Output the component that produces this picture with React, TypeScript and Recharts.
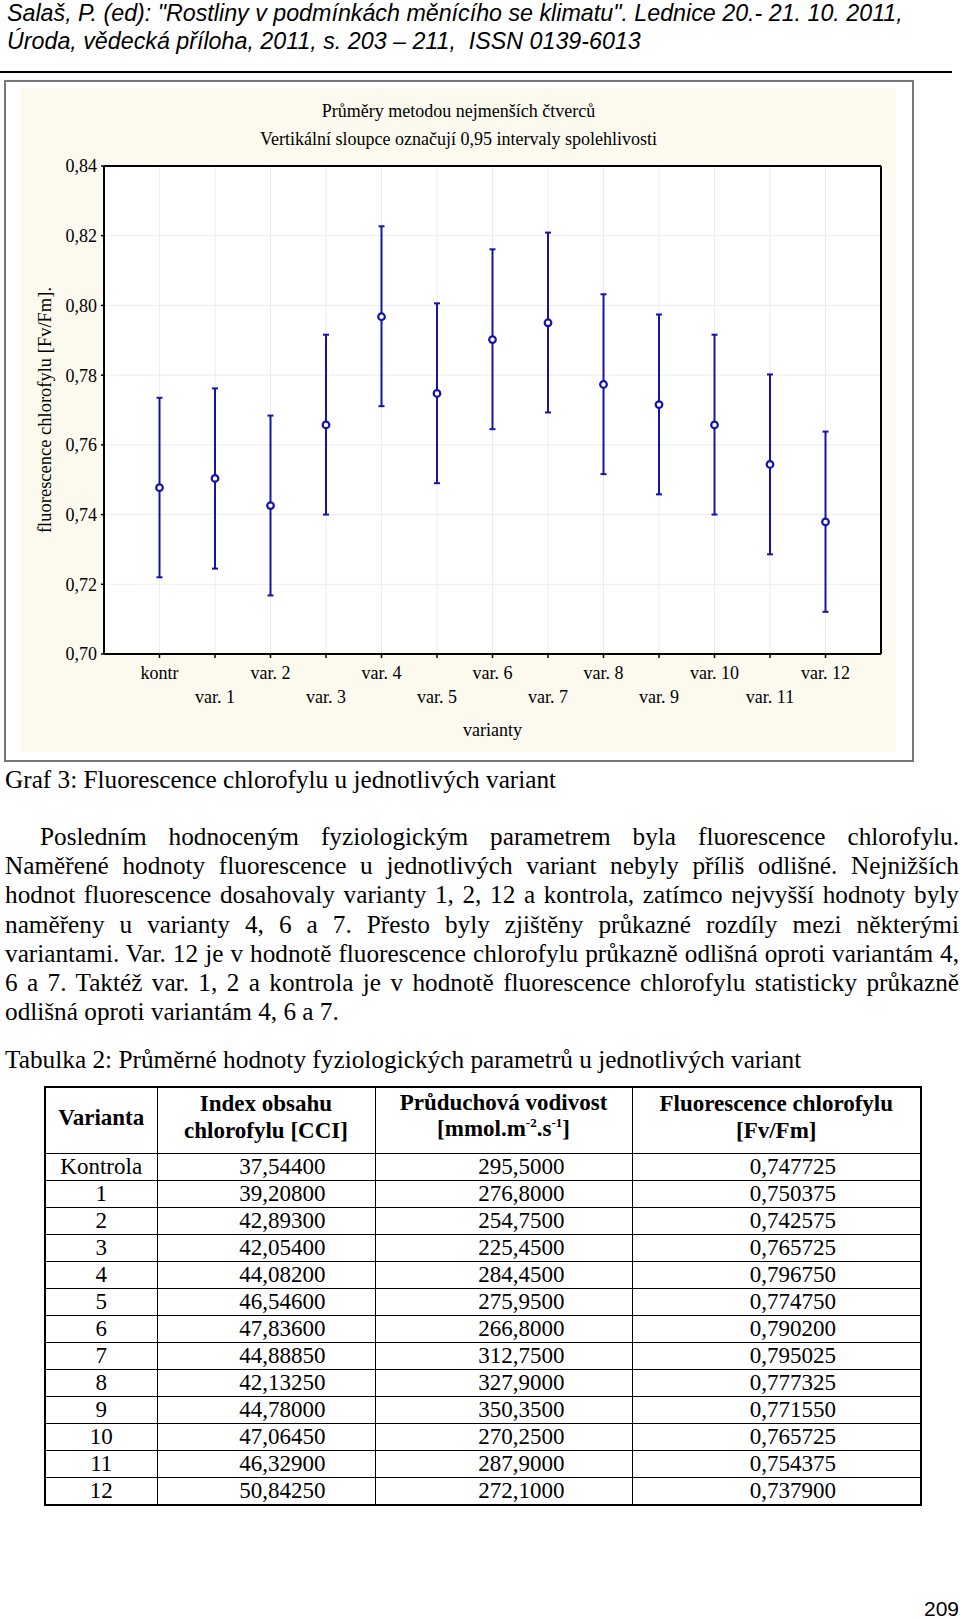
import React from 'react'
import { ComposedChart, Scatter, ErrorBar, XAxis, YAxis, CartesianGrid } from 'recharts'

const varianty = ['kontr', 'var. 1', 'var. 2', 'var. 3', 'var. 4', 'var. 5', 'var. 6', 'var. 7', 'var. 8', 'var. 9', 'var. 10', 'var. 11', 'var. 12']
const prumery = [0.747725, 0.750375, 0.742575, 0.765725, 0.79675, 0.77475, 0.7902, 0.795025, 0.777325, 0.77155, 0.765725, 0.754375, 0.7379]
const horniMez = [0.7735, 0.7762, 0.7684, 0.7916, 0.8227, 0.8006, 0.8161, 0.8209, 0.8032, 0.7974, 0.7916, 0.7802, 0.7638]
const dolniMez = [0.722, 0.7245, 0.7168, 0.74, 0.7711, 0.749, 0.7645, 0.7693, 0.7516, 0.7458, 0.74, 0.7286, 0.7121]
const yTicks = [0.7, 0.72, 0.74, 0.76, 0.78, 0.8, 0.82, 0.84]
const xTicks = [1, 2, 3, 4, 5, 6, 7, 8, 9, 10, 11, 12, 13]

// tabulka 2
const tabVarianty = ['Kontrola', '1', '2', '3', '4', '5', '6', '7', '8', '9', '10', '11', '12']
const cci = [37.544, 39.208, 42.893, 42.054, 44.082, 46.546, 47.836, 44.8885, 42.1325, 44.78, 47.0645, 46.329, 50.8425]
const vodivost = [295.5, 276.8, 254.75, 225.45, 284.45, 275.95, 266.8, 312.75, 327.9, 350.35, 270.25, 287.9, 272.1]
const fvFm = [0.747725, 0.750375, 0.742575, 0.765725, 0.79675, 0.77475, 0.7902, 0.795025, 0.777325, 0.77155, 0.765725, 0.754375, 0.7379]

const odstavec = [
  'Posledním hodnoceným fyziologickým parametrem byla fluorescence chlorofylu.',
  'Naměřené hodnoty fluorescence u jednotlivých variant nebyly příliš odlišné. Nejnižších',
  'hodnot fluorescence dosahovaly varianty 1, 2, 12 a kontrola, zatímco nejvyšší hodnoty byly',
  'naměřeny u varianty 4, 6 a 7. Přesto byly zjištěny průkazné rozdíly mezi některými',
  'variantami. Var. 12 je v hodnotě fluorescence chlorofylu průkazně odlišná oproti variantám 4,',
  '6 a 7. Taktéž var. 1, 2 a kontrola je v hodnotě fluorescence chlorofylu statisticky průkazně',
  'odlišná oproti variantám 4, 6 a 7.',
]

const serif = '"Liberation Serif", "Times New Roman", serif'
const sans = '"Liberation Sans", Arial, sans-serif'
const blue = '#1414aa'

const data = varianty.map((name, i) => ({
  x: i + 1,
  name,
  y: prumery[i],
  err: [prumery[i] - dolniMez[i], horniMez[i] - prumery[i]],
}))

const cz = (v: number, d: number) => v.toFixed(d).replace('.', ',')

const XTick = (props: any) => {
  const { x, y, payload } = props
  const i = Math.round(payload.value) - 1
  if (i < 0 || i >= varianty.length) return null
  const druhy = i % 2 === 1
  return (
    <text x={x} y={y + (druhy ? 39 : 15)} dy="0.35em" textAnchor="middle" fontSize={18} fontFamily={serif} fill="#000">
      {varianty[i]}
    </text>
  )
}

const Bod = (props: any) => (
  <circle cx={props.cx} cy={props.cy} r={3.3} fill="#fff" stroke={blue} strokeWidth={2.2} />
)

const Nic = () => <g />

function Graf() {
  return (
    <div style={{ position: 'absolute', left: 21, top: 88, width: 875, height: 664, background: '#fcf9ef' }}>
      <div style={{ position: 'absolute', left: 0, top: 10, width: 875, textAlign: 'center', fontFamily: serif, fontSize: 18, lineHeight: '27.5px' }}>
        Průměry metodou nejmenších čtverců
        <br />
        Vertikální sloupce označují 0,95 intervaly spolehlivosti
      </div>
      <ComposedChart width={875} height={664} data={data} margin={{ top: 78, right: 15, bottom: 0, left: 0 }}>
        <CartesianGrid stroke="#ececec" strokeWidth={1} fill="#fff" />
        <XAxis
          dataKey="x"
          type="number"
          domain={[0, 14]}
          ticks={xTicks}
          allowDataOverflow
          height={98}
          tickSize={4}
          tickMargin={0}
          tick={<XTick />}
          interval={0}
          axisLine={{ stroke: '#000', strokeWidth: 2 }}
          tickLine={{ stroke: '#000', strokeWidth: 1.5 }}
          label={{ value: 'varianty', position: 'center', dy: 27, style: { fontFamily: serif, fontSize: 18, fill: '#000' } }}
        />
        <XAxis
          xAxisId="top"
          dataKey="x"
          orientation="top"
          type="number"
          domain={[0, 14]}
          ticks={xTicks}
          allowDataOverflow
          height={1}
          mirror
          tick={false}
          tickSize={4}
          interval={0}
          axisLine={{ stroke: '#000', strokeWidth: 2 }}
          tickLine={{ stroke: '#000', strokeWidth: 1.5 }}
        />
        <YAxis
          dataKey="y"
          type="number"
          domain={[0.7, 0.84]}
          ticks={yTicks}
          allowDataOverflow
          width={83}
          tickSize={3}
          tickMargin={4}
          interval={0}
          tickFormatter={(v: number) => cz(v, 2)}
          tick={{ fill: '#000', fontSize: 18, fontFamily: serif }}
          axisLine={{ stroke: '#000', strokeWidth: 2 }}
          tickLine={{ stroke: '#000', strokeWidth: 1.5 }}
          label={{ value: 'fluorescence chlorofylu [Fv/Fm].', angle: -90, position: 'center', dx: -18.5, style: { fontFamily: serif, fontSize: 18.5, fill: '#000', textAnchor: 'middle' } }}
        />
        <YAxis
          yAxisId="right"
          dataKey="y"
          orientation="right"
          type="number"
          domain={[0.7, 0.84]}
          ticks={yTicks}
          allowDataOverflow
          width={1}
          mirror
          tick={false}
          tickSize={4}
          interval={0}
          axisLine={{ stroke: '#000', strokeWidth: 2 }}
          tickLine={{ stroke: '#000', strokeWidth: 1.5 }}
        />
        {/* prázdná řada jen kvůli horní a pravé ose */}
        <Scatter xAxisId="top" yAxisId="right" dataKey="y" shape={<Nic />} isAnimationActive={false} legendType="none" />
        <Scatter dataKey="y" shape={<Bod />} isAnimationActive={false}>
          <ErrorBar dataKey="err" direction="y" width={3} stroke={blue} strokeWidth={2} isAnimationActive={false} />
        </Scatter>
      </ComposedChart>
    </div>
  )
}

const th: React.CSSProperties = { border: '1.5px solid #000', fontWeight: 'bold', textAlign: 'center', padding: '0 0 5px 0', lineHeight: '26.5px' }
const td: React.CSSProperties = { border: '1.5px solid #000', padding: 0, lineHeight: '26px', height: 26 }
const sup: React.CSSProperties = { fontSize: 13, position: 'relative', top: -9 }

export default function App() {
  return (
    <div style={{ position: 'absolute', left: 0, top: 0, width: 960, height: 1620, background: '#fff', color: '#000', overflow: 'hidden' }}>
      <div style={{ position: 'absolute', left: 7, top: 0, fontFamily: sans, fontStyle: 'italic', fontSize: 23.25, lineHeight: '27.5px', whiteSpace: 'pre' }}>
        {'Salaš, P. (ed): "Rostliny v podmínkách měnícího se klimatu". Lednice 20.- 21. 10. 2011,'}
        <br />
        {'Úroda, vědecká příloha, 2011, s. 203 – 211,  ISSN 0139-6013'}
      </div>
      <div style={{ position: 'absolute', left: 0, top: 71, width: 952, height: 2, background: '#000' }} />

      <div style={{ position: 'absolute', left: 4, top: 80, width: 910, height: 682, border: '2px solid #777', boxSizing: 'border-box' }} />
      <Graf />

      <div style={{ position: 'absolute', left: 5, top: 764, fontFamily: serif, fontSize: 25.25, lineHeight: '30px', whiteSpace: 'nowrap' }}>
        Graf 3: Fluorescence chlorofylu u jednotlivých variant
      </div>

      <div style={{ position: 'absolute', left: 5, top: 822, width: 954, fontFamily: serif, fontSize: 25.25, lineHeight: '29.2px' }}>
        {odstavec.map((r, i) => (
          <div
            key={i}
            style={{
              textAlign: 'justify',
              textAlignLast: i < odstavec.length - 1 ? 'justify' : 'left',
              textIndent: i === 0 ? 35 : 0,
            }}
          >
            {r}
          </div>
        ))}
      </div>

      <div style={{ position: 'absolute', left: 5, top: 1044, fontFamily: serif, fontSize: 25.3, lineHeight: '30px', whiteSpace: 'nowrap' }}>
        Tabulka 2: Průměrné hodnoty fyziologických parametrů u jednotlivých variant
      </div>

      <table
        style={{
          position: 'absolute',
          left: 44,
          top: 1086,
          width: 876,
          borderCollapse: 'collapse',
          tableLayout: 'fixed',
          fontFamily: serif,
          fontSize: 23,
          border: '2px solid #000',
        }}
      >
        <colgroup>
          <col style={{ width: 112 }} />
          <col style={{ width: 218 }} />
          <col style={{ width: 257 }} />
          <col style={{ width: 289 }} />
        </colgroup>
        <thead>
          <tr style={{ height: 66 }}>
            <th style={th}>Varianta</th>
            <th style={th}>
              Index obsahu
              <br />
              chlorofylu [CCI]
            </th>
            <th style={th}>
              Průduchová vodivost
              <br />
              [mmol.m<span style={sup}>-2</span>.s<span style={sup}>-1</span>]
            </th>
            <th style={th}>
              Fluorescence chlorofylu
              <br />
              [Fv/Fm]
            </th>
          </tr>
        </thead>
        <tbody>
          {tabVarianty.map((v, i) => (
            <tr key={v}>
              <td style={{ ...td, textAlign: 'center' }}>{v}</td>
              <td style={{ ...td, textAlign: 'right', paddingRight: 49 }}>{cz(cci[i], 5)}</td>
              <td style={{ ...td, textAlign: 'right', paddingRight: 67 }}>{cz(vodivost[i], 4)}</td>
              <td style={{ ...td, textAlign: 'right', paddingRight: 84 }}>{cz(fvFm[i], 6)}</td>
            </tr>
          ))}
        </tbody>
      </table>

      <div style={{ position: 'absolute', right: 1, top: 1597, fontFamily: sans, fontSize: 21, lineHeight: '24px' }}>209</div>
    </div>
  )
}
